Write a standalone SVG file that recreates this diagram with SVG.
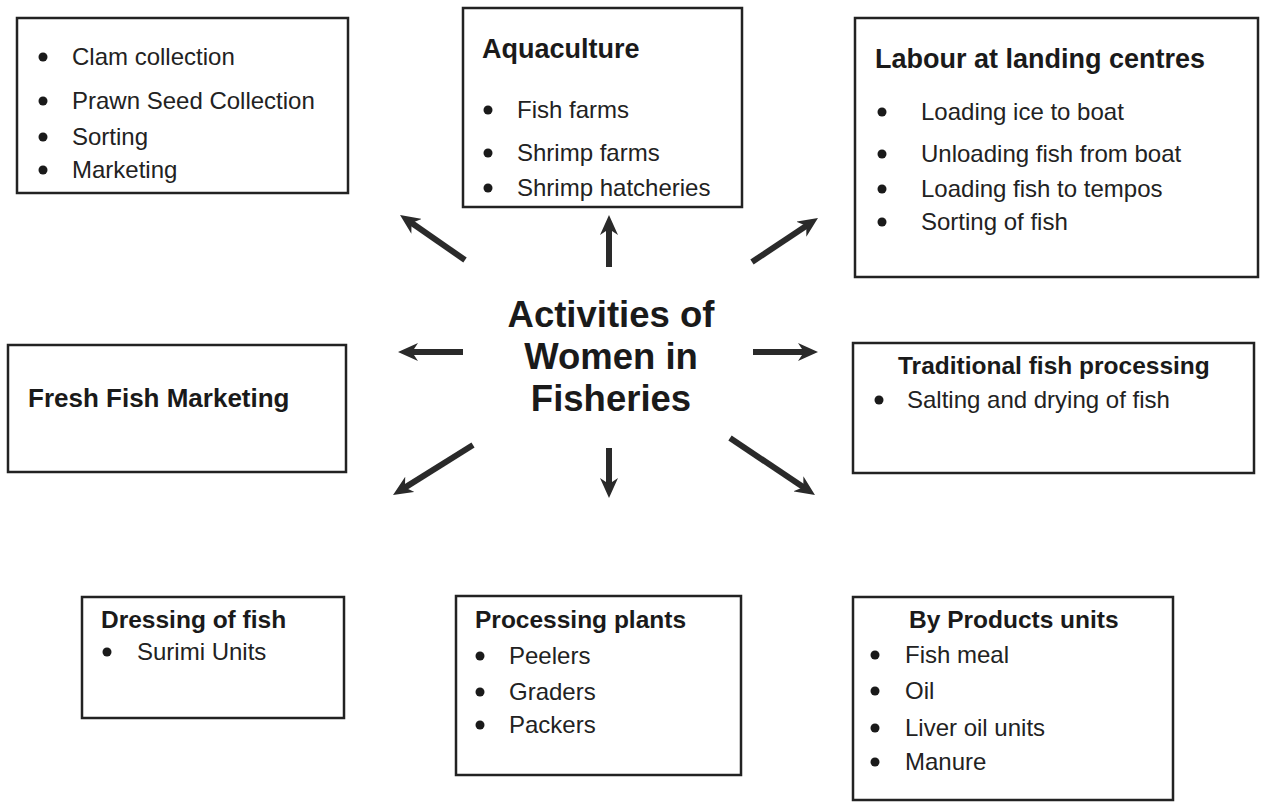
<svg xmlns="http://www.w3.org/2000/svg" width="1261" height="802" viewBox="0 0 1261 802">
<style>
.box{fill:#ffffff;stroke:#222;stroke-width:2.5}
.t{font-family:"Liberation Sans",Arial,sans-serif;font-size:24px;fill:#222}
.h{font-family:"Liberation Sans",Arial,sans-serif;font-size:24.5px;font-weight:bold;fill:#1a1a1a}
.title{font-family:"Liberation Sans",Arial,sans-serif;font-size:36.5px;font-weight:bold;fill:#1a1a1a;text-anchor:middle}
.b{fill:#1a1a1a}
.arr{stroke:#2a2a2a;stroke-width:6;fill:none;marker-end:url(#ah)}
</style>
<defs>
<marker id="ah" markerUnits="userSpaceOnUse" viewBox="0 0 20 18" refX="8" refY="9" markerWidth="20" markerHeight="18" orient="auto">
<path d="M0,0 L20,9 L0,18 L6,9 Z" fill="#2a2a2a"/>
</marker>
</defs>
<rect width="1261" height="802" fill="#ffffff"/>

<g id="node-collection">
<rect class="box" x="17" y="18" width="331" height="175"/>
<circle class="b" cx="43" cy="57" r="4.5"/><text class="t" x="72" y="65">Clam collection</text>
<circle class="b" cx="43" cy="101" r="4.5"/><text class="t" x="72" y="109">Prawn Seed Collection</text>
<circle class="b" cx="43" cy="137" r="4.5"/><text class="t" x="72" y="145">Sorting</text>
<circle class="b" cx="43" cy="170" r="4.5"/><text class="t" x="72" y="178">Marketing</text>
</g>

<g id="node-aquaculture">
<rect class="box" x="463" y="8" width="279" height="199"/>
<text class="h" x="482" y="58" style="font-size:27px">Aquaculture</text>
<circle class="b" cx="488" cy="110" r="4.5"/><text class="t" x="517" y="118">Fish farms</text>
<circle class="b" cx="488" cy="153" r="4.5"/><text class="t" x="517" y="161">Shrimp farms</text>
<circle class="b" cx="488" cy="188" r="4.5"/><text class="t" x="517" y="196">Shrimp hatcheries</text>
</g>

<g id="node-labour">
<rect class="box" x="855" y="18" width="403" height="259"/>
<text class="h" x="875" y="68" style="font-size:27px">Labour at landing centres</text>
<circle class="b" cx="882" cy="112" r="4.5"/><text class="t" x="921" y="120">Loading ice to boat</text>
<circle class="b" cx="882" cy="154" r="4.5"/><text class="t" x="921" y="162">Unloading fish from boat</text>
<circle class="b" cx="882" cy="189" r="4.5"/><text class="t" x="921" y="197">Loading fish to tempos</text>
<circle class="b" cx="882" cy="222" r="4.5"/><text class="t" x="921" y="230">Sorting of fish</text>
</g>

<g id="node-center">
<text class="title" x="611" y="327">Activities of</text>
<text class="title" x="611" y="369">Women in</text>
<text class="title" x="611" y="411">Fisheries</text>
</g>

<g id="node-fresh">
<rect class="box" x="8" y="345" width="338" height="127"/>
<text class="h" x="28" y="407" style="font-size:26px">Fresh Fish Marketing</text>
</g>

<g id="node-traditional">
<rect class="box" x="853" y="343" width="401" height="130"/>
<text class="h" x="898" y="374">Traditional fish processing</text>
<circle class="b" cx="879" cy="400" r="4.5"/><text class="t" x="907" y="408">Salting and drying of fish</text>
</g>

<g id="node-dressing">
<rect class="box" x="82" y="597" width="262" height="121"/>
<text class="h" x="101" y="628">Dressing of fish</text>
<circle class="b" cx="107" cy="652" r="4.5"/><text class="t" x="137" y="660">Surimi Units</text>
</g>

<g id="node-processing">
<rect class="box" x="456" y="596" width="285" height="179"/>
<text class="h" x="475" y="628">Processing plants</text>
<circle class="b" cx="480" cy="656" r="4.5"/><text class="t" x="509" y="664">Peelers</text>
<circle class="b" cx="480" cy="692" r="4.5"/><text class="t" x="509" y="700">Graders</text>
<circle class="b" cx="480" cy="725" r="4.5"/><text class="t" x="509" y="733">Packers</text>
</g>

<g id="node-byproducts">
<rect class="box" x="853" y="597" width="320" height="203"/>
<text class="h" x="909" y="628">By Products units</text>
<circle class="b" cx="875" cy="655" r="4.5"/><text class="t" x="905" y="663">Fish meal</text>
<circle class="b" cx="875" cy="691" r="4.5"/><text class="t" x="905" y="699">Oil</text>
<circle class="b" cx="875" cy="728" r="4.5"/><text class="t" x="905" y="736">Liver oil units</text>
<circle class="b" cx="875" cy="762" r="4.5"/><text class="t" x="905" y="770">Manure</text>
</g>

<g id="connectors">
<line class="arr" x1="465" y1="260" x2="409.9" y2="221.8"/>
<line class="arr" x1="609" y1="267" x2="609" y2="227"/>
<line class="arr" x1="752" y1="262" x2="808" y2="224.7"/>
<line class="arr" x1="463" y1="352" x2="410" y2="352"/>
<line class="arr" x1="753" y1="352" x2="806" y2="352"/>
<line class="arr" x1="473" y1="445" x2="403.2" y2="488.6"/>
<line class="arr" x1="609" y1="448" x2="609" y2="486"/>
<line class="arr" x1="730" y1="438" x2="805" y2="488.3"/>
</g>
</svg>
